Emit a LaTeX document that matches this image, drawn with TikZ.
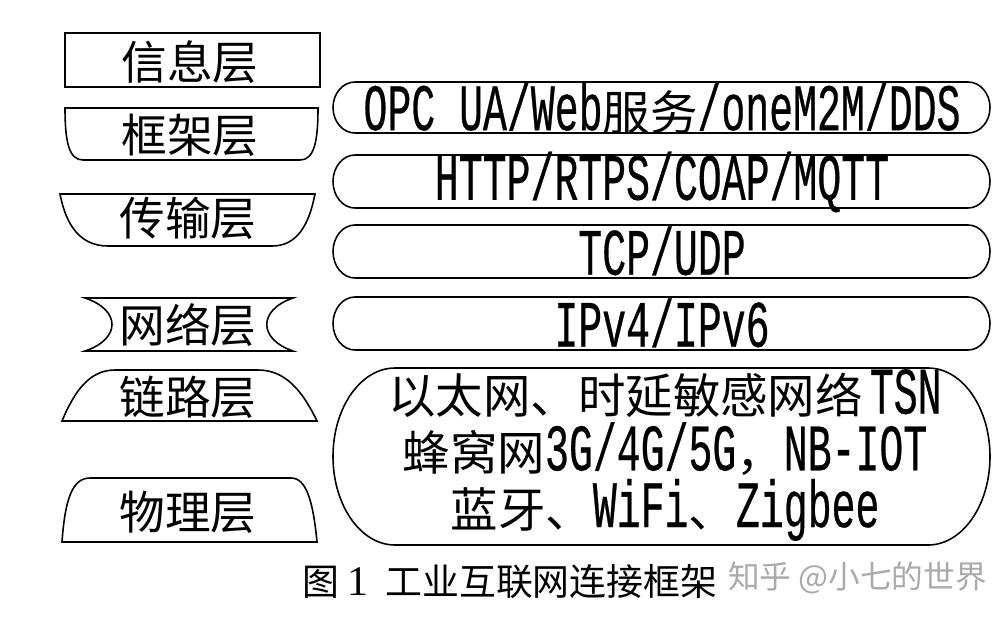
\documentclass[tikz,border=0pt]{standalone}
\usepackage{fontspec}
\newfontfamily\cjk{Noto Sans CJK SC}
\newfontfamily\lat[Scale=1.4,FakeStretch=0.6,FakeBold=0.4]{Liberation Mono}
\newfontfamily\capfont{Liberation Serif}
\definecolor{wm}{RGB}{170,170,170}
\setlength{\lineskiplimit}{-100pt}
\tikzset{
  shp/.style={draw=black,line width=0.9pt,fill=white},
  lbl/.style={font=\fontsize{26pt}{28pt}\selectfont\cjk,inner sep=0pt},
  rtxt/.style={font=\fontsize{27pt}{30pt}\selectfont,inner sep=0pt},
  rblk/.style={font=\fontsize{27pt}{32.3pt}\selectfont,inner sep=0pt,align=center},
}
% stadium: left x, right x, top y, bottom y, end radius
\newcommand\mystad[5]{%
  \pgfmathsetmacro{\ym}{(#3+#4)/2}%
  \pgfmathsetmacro{\ry}{(#4-#3)/2*0.5523}%
  \pgfmathsetmacro{\rx}{#5*0.5523}%
  \pgfmathsetmacro{\xa}{#1+#5}%
  \pgfmathsetmacro{\xb}{#2-#5}%
  \draw[shp] (\xa,#3) -- (\xb,#3)
    .. controls (\xb+\rx,#3) and (#2,\ym-\ry) .. (#2,\ym)
    .. controls (#2,\ym+\ry) and (\xb+\rx,#4) .. (\xb,#4)
    -- (\xa,#4)
    .. controls (\xa-\rx,#4) and (#1,\ym+\ry) .. (#1,\ym)
    .. controls (#1,\ym-\ry) and (\xa-\rx,#3) .. (\xa,#3) -- cycle;}
\begin{document}
\begin{tikzpicture}[x=0.02cm,y=-0.02cm]
\useasboundingbox[fill=white] (0,0) rectangle (1000,620);
% left shapes
\draw[shp] (65,33) rectangle (320,87);
\draw[shp] (65,108) -- (318,108) .. controls (318,142) and (314,160) .. (300,160) -- (83,160) .. controls (69,160) and (65,142) .. (65,108) -- cycle;
\draw[shp] (60,194) -- (315,194) .. controls (309,225) and (297,246) .. (272,246) -- (108,246) .. controls (80,246) and (66,225) .. (60,194) -- cycle;
\draw[shp] (85,298) -- (293,298) .. controls (258,310) and (258,339) .. (293,351) -- (85,351) .. controls (121,339) and (121,310) .. (85,298) -- cycle;
\draw[shp] (62,421) .. controls (75,390) and (90,370) .. (115,370) -- (258,370) .. controls (285,370) and (302,390) .. (317,421) -- cycle;
\draw[shp] (62,542) .. controls (65,500) and (72,478) .. (90,478) -- (291,478) .. controls (306,478) and (313,500) .. (317,542) -- cycle;
\node[lbl] (info) at (190,62) {信息层};
\node[lbl] (frame) at (190,135) {框架层};
\node[lbl] (trans) at (188,218) {传输层};
\node[lbl] (net) at (188,325) {网络层};
\node[lbl] (link) at (188,397) {链路层};
\node[lbl] (phys) at (188,512) {物理层};
% right stadiums
\mystad{333}{990}{82}{133}{22}
\mystad{333}{990}{155}{208}{22}
\mystad{333}{990}{225}{278}{22}
\mystad{333}{990}{297}{350}{22}
\mystad{333}{990}{368}{545}{62}
\node[rtxt] (opc) at (662,108) {{\lat OPC UA/Web}{\cjk 服务}{\lat /oneM2M/DDS}};
\node[rtxt] (http) at (662,182) {\lat HTTP/RTPS/COAP/MQTT};
\node[rtxt] (tcp) at (662,251) {\lat TCP/UDP};
\node[rtxt] (ip) at (662,323) {\lat IPv4/IPv6};
\node[rblk] (phy) at (665,455)
  {{\cjk 以太网、时延敏感网络}\hspace{0.15em}{\lat TSN}\\
   {\cjk 蜂窝网}{\lat 3G/4G/5G}{\cjk ，}{\lat NB-IOT}\\
   {\cjk 蓝牙、}{\lat WiFi}{\cjk 、}{\lat Zigbee}};
% caption
\node[font=\fontsize{21pt}{24pt}\selectfont\cjk,inner sep=0pt] (fig) at (321,582) {图};
\node[font=\fontsize{24pt}{26pt}\selectfont\capfont,inner sep=0pt] (num) at (358,582) {1};
\node[font=\fontsize{21pt}{24pt}\selectfont\cjk,inner sep=0pt,anchor=west] (cap) at (385,582) {工业互联网连接框架};
\node[font=\fontsize{18pt}{20pt}\selectfont\cjk,text=wm,inner sep=0pt,anchor=west] (wmk) at (728,578) {知乎 @小七的世界};
\end{tikzpicture}
\end{document}
